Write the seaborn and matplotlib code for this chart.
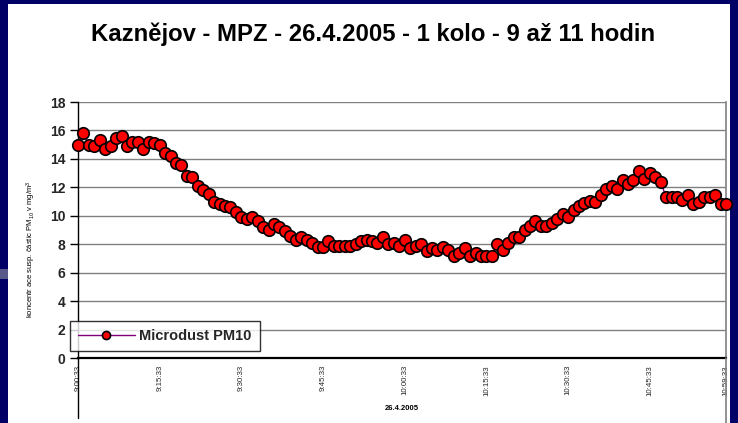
import matplotlib
matplotlib.use("Agg")
import matplotlib.pyplot as plt
import seaborn as sns
import pandas as pd
from matplotlib.patches import Rectangle
from matplotlib.lines import Line2D

# ---------------- data ----------------
title = "Kaznějov - MPZ - 26.4.2005 - 1 kolo - 9 až 11 hodin"
series_name = "Microdust PM10"
date_label = "26.4.2005"
ylabel = r"koncentr ace susp. částic PM$_{10}$ v mg/m$^3$"

pm10 = [
    15.0, 15.8, 15.0, 14.9, 15.3, 14.7, 14.9, 15.5, 15.6, 14.9,
    15.2, 15.2, 14.7, 15.2, 15.1, 15.0, 14.4, 14.2, 13.7, 13.6,
    12.8, 12.7, 12.1, 11.8, 11.5, 11.0, 10.8, 10.7, 10.6, 10.3,
    9.9, 9.8, 9.9, 9.6, 9.2, 9.0, 9.4, 9.2, 8.9, 8.6,
    8.3, 8.5, 8.3, 8.1, 7.8, 7.8, 8.2, 7.9, 7.9, 7.9,
    7.9, 8.0, 8.2, 8.3, 8.2, 8.1, 8.5, 8.0, 8.1, 7.9,
    8.3, 7.7, 7.85, 8.0, 7.5, 7.75, 7.6, 7.8, 7.6, 7.2,
    7.4, 7.7, 7.2, 7.35, 7.2, 7.2, 7.2, 8.0, 7.6, 8.1,
    8.5, 8.5, 9.0, 9.3, 9.6, 9.3, 9.3, 9.5, 9.8, 10.1,
    9.9, 10.4, 10.7, 10.9, 11.05, 11.0, 11.45, 11.9, 12.1, 11.85,
    12.5, 12.2, 12.5, 13.15, 12.6, 13.0, 12.7, 12.4, 11.3, 11.3,
    11.3, 11.1, 11.45, 10.8, 11.0, 11.3, 11.3, 11.45, 10.8, 10.8,
]
sample_index = list(range(len(pm10)))  # one sample per minute, 9:00:33 .. 10:59:33

xtick_pos = [0, 15, 30, 45, 60, 75, 90, 105, 119]
xtick_labels = ["9:00:33", "9:15:33", "9:30:33", "9:45:33", "10:00:33",
                "10:15:33", "10:30:33", "10:45:33", "10:59:33"]
ytick_vals = [0, 2, 4, 6, 8, 10, 12, 14, 16, 18]

df = pd.DataFrame({"idx": sample_index, "pm10": pm10})

# ---------------- style ----------------
sns.set_theme(style="white")
plt.rcParams["font.family"] = ["Liberation Sans", "DejaVu Sans"]
plt.rcParams["mathtext.default"] = "regular"

W, H = 738, 423
fig = plt.figure(figsize=(W / 100, H / 100), dpi=100)
navy = "#000066"
fig.patch.set_facecolor(navy)
fig.patches.append(Rectangle((8 / W, 0), (730 - 8) / W, (H - 4) / H,
                             transform=fig.transFigure, facecolor="white",
                             edgecolor="none", zorder=-5))
# small slide artefact on left border
fig.patches.append(Rectangle((0, (H - 279) / H), 8 / W, 10 / H,
                             transform=fig.transFigure, facecolor="#5a5a8a",
                             edgecolor="none", zorder=-5))

L, R, T, B = 78, 726, 102, 358
ax = fig.add_axes([L / W, (H - B) / H, (R - L) / W, (B - T) / H])
ax.set_facecolor("white")
ax.set_zorder(1)

sns.lineplot(data=df, x="idx", y="pm10", ax=ax, color="#800080", linewidth=1.0,
             marker="o", markersize=8.3, markerfacecolor="#ff0000",
             markeredgecolor="black", markeredgewidth=1.2,
             label=series_name, clip_on=False, zorder=5)

ax.set_xlim(0, 119)
ax.set_ylim(0, 18)
ax.set_yticks(ytick_vals)
ax.set_yticklabels([str(v) for v in ytick_vals], fontsize=10, fontweight="bold")
ax.set_xticks(xtick_pos)
ax.set_xticklabels(xtick_labels, rotation=90, fontsize=5.7)
ax.tick_params(axis="x", length=0, pad=5)
ax.tick_params(axis="y", length=6, width=1, color="black", pad=3, left=True)
ax.set_xlabel("")
ax.set_ylabel("")

ax.yaxis.grid(True, color="#808080", linewidth=1.0)
ax.xaxis.grid(False)
ax.set_axisbelow(True)
ax.spines["top"].set_visible(False)
ax.spines["left"].set_color("black")
ax.spines["left"].set_linewidth(1.0)
ax.spines["bottom"].set_color("black")
ax.spines["bottom"].set_linewidth(1.6)
ax.spines["right"].set_color("#808080")
ax.spines["right"].set_linewidth(1.2)

# category group separator lines below the axis
fig.lines.append(Line2D([L / W, L / W], [(H - B) / H, (H - 418) / H],
                        transform=fig.transFigure, color="black", linewidth=1.0))
fig.lines.append(Line2D([R / W, R / W], [(H - B) / H, 0],
                        transform=fig.transFigure, color="#808080", linewidth=1.2))

# legend
leg = ax.legend(loc="lower left", bbox_to_anchor=(70 / W, (H - 351) / H),
                bbox_transform=fig.transFigure, borderaxespad=0,
                frameon=True, fancybox=False, edgecolor="black",
                prop={"size": 10.5, "weight": "bold"}, handlelength=3.9,
                handletextpad=0.3, borderpad=0.55, markerscale=0.7)
leg.get_frame().set_linewidth(1.0)
leg.set_zorder(10)

# texts
fig.text(373 / W, (H - 41) / H, title, ha="center", va="baseline",
         fontsize=17.2, fontweight="bold", color="black")
fig.text(31 / W, (H - 249) / H, ylabel, rotation=90, ha="center", va="center",
         fontsize=5.5, color="black")
fig.text(402 / W, (H - 408) / H, date_label, ha="center", va="center",
         fontsize=5.5, fontweight="bold", color="black")

fig.savefig("out.png", dpi=100, facecolor=fig.get_facecolor())
